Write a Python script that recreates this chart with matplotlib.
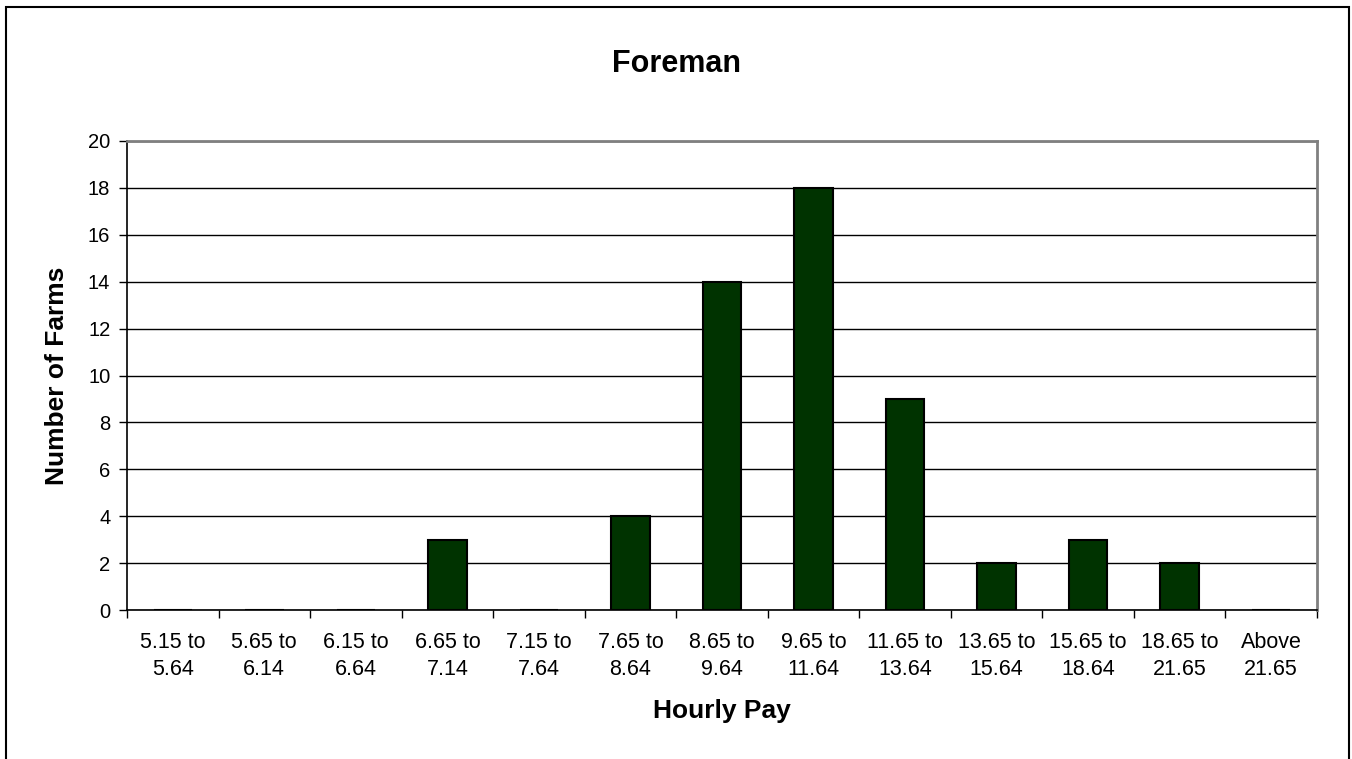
import matplotlib.pyplot as plt
import matplotlib.patches as patches
import numpy as np

plt.rcParams['font.family'] = ['Liberation Sans', 'DejaVu Sans']

categories = ['5.15 to\n5.64', '5.65 to\n6.14', '6.15 to\n6.64', '6.65 to\n7.14',
              '7.15 to\n7.64', '7.65 to\n8.64', '8.65 to\n9.64', '9.65 to\n11.64',
              '11.65 to\n13.64', '13.65 to\n15.64', '15.65 to\n18.64', '18.65 to\n21.65',
              'Above\n21.65']
farms = [0, 0, 0, 3, 0, 4, 14, 18, 9, 2, 3, 2, 0]
yticks = [0, 2, 4, 6, 8, 10, 12, 14, 16, 18, 20]

fig = plt.figure(figsize=(13.52, 7.59), dpi=100)
ax = fig.add_axes([127 / 1352, 1 - 610 / 759, (1317 - 127) / 1352, (610 - 141) / 759])

x = np.arange(len(categories))
ax.bar(x, farms, width=0.42, color='#003300', edgecolor='black', linewidth=1.5, zorder=3)

ax.set_xlim(-0.5, len(categories) - 0.5)
ax.set_ylim(0, 20)
ax.set_yticks(yticks)
ax.yaxis.grid(True, color='black', linewidth=1, zorder=0)
ax.set_axisbelow(True)

ax.set_xticks(x)
ax.set_xticklabels(categories, fontsize=15.5, linespacing=1.33)
ax.tick_params(axis='x', length=0, pad=16)
ax.set_xticks(np.arange(-0.5, len(categories), 1), minor=True)
ax.tick_params(axis='x', which='minor', length=6, width=1, color='black')
ax.tick_params(axis='y', labelsize=14.5, length=6, width=1, pad=6)

for s in ['top', 'right']:
    ax.spines[s].set_color('#808080')
    ax.spines[s].set_linewidth(2)
for s in ['left', 'bottom']:
    ax.spines[s].set_color('black')
    ax.spines[s].set_linewidth(1.2)

ax.set_xlabel('Hourly Pay', fontsize=19, fontweight='bold', labelpad=14)
ax.set_ylabel('Number of Farms', fontsize=19, fontweight='bold', labelpad=14)
fig.text(677 / 1352, 1 - 72 / 759, 'Foreman', fontsize=22, fontweight='bold',
         ha='center', va='baseline')

# outer chart border
fig.patches.append(patches.Rectangle((6 / 1352, -0.05), (1349 - 6) / 1352, 1.05 - 7 / 759,
                                     transform=fig.transFigure, fill=False,
                                     edgecolor='black', linewidth=1.5))

fig.savefig('out.png', dpi=100)
